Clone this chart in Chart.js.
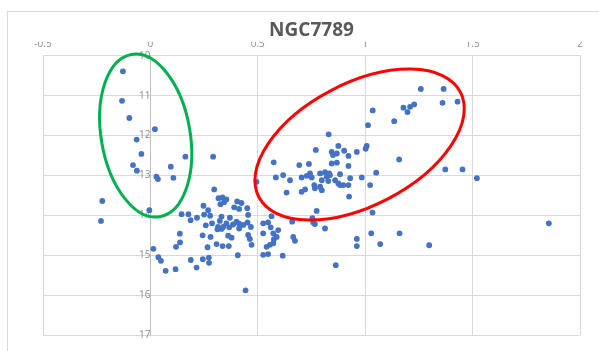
<!DOCTYPE html>
<html>
<head>
<meta charset="utf-8">
<script src="https://cdn.jsdelivr.net/npm/chart.js@4/dist/chart.umd.min.js"></script>
<style>
html,body{margin:0;padding:0;background:#fff;overflow:hidden}
#frame{position:absolute;left:7px;top:11px;width:700px;height:500px;border:1px solid #d9d9d9}
#chart{position:absolute;left:0;top:0}
</style>
</head>
<body>
<div id="frame"></div>
<canvas id="chart" width="599" height="351"></canvas>
<script>
// colour index (x) and magnitude (y) of each star
const bv=[-0.128,-0.132,-0.098,0.021,-0.064,-0.042,0.163,0.292,-0.081,-0.063,0.095,0.028,0.035,0.107,-0.224,-0.230,-0.005,
  0.014,0.037,0.049,0.071,0.117,0.119,0.138,0.137,0.145,0.177,0.187,0.217,0.188,0.215,0.244,0.272,0.273,0.266,0.243,0.280,
  0.308,0.336,0.365,0.407,0.443,0.297,0.317,0.247,0.269,0.250,0.278,0.258,0.287,0.312,0.336,0.354,0.343,0.326,0.404,0.424,
  0.390,0.413,0.451,0.455,0.331,0.323,0.370,0.354,0.315,0.339,0.331,0.367,0.385,0.401,0.413,0.432,0.452,0.468,0.413,0.362,
  0.378,0.455,0.463,0.471,0.494,0.525,0.548,0.560,0.572,0.595,0.525,0.541,0.556,0.572,0.525,0.548,0.616,0.660,0.665,0.673,
  0.634,0.584,0.618,0.650,0.564,0.574,0.693,0.738,0.770,0.704,0.728,0.743,0.751,0.790,0.813,0.763,0.790,0.798,0.720,0.704,
  0.774,0.754,0.758,0.813,0.863,0.961,0.961,0.925,0.832,0.821,0.836,0.883,0.930,0.984,1.051,0.798,0.828,0.860,0.883,0.875,
  0.922,1.023,0.844,0.868,0.922,0.844,0.850,0.875,0.868,0.902,0.922,0.961,0.830,1.007,1.002,1.013,1.035,1.135,1.178,1.197,
  1.209,1.228,1.259,1.365,1.360,1.430,1.158,1.373,1.453,1.520,1.855,1.034,1.028,1.160,1.070,1.298,0.766,0.898,0.766,0.588,0.575];
const vmag=[10.39,11.13,11.56,11.84,12.10,12.46,12.53,12.53,12.74,12.88,12.78,13.03,13.09,13.06,13.64,14.14,13.87,
  14.84,15.05,15.14,15.39,15.35,14.79,14.68,14.46,13.97,13.97,14.12,14.06,15.12,15.31,15.10,15.06,15.19,14.80,14.50,14.54,
  14.72,14.77,14.77,15.00,15.88,13.35,13.57,13.76,13.87,13.98,14.01,14.25,14.20,14.35,13.55,13.60,13.67,13.72,13.65,13.69,
  13.80,13.84,13.82,13.99,14.03,14.14,14.06,14.20,14.29,14.29,14.34,14.30,14.23,14.16,14.21,14.24,14.18,14.29,14.33,14.51,
  14.56,14.49,14.59,14.74,13.16,14.20,14.18,14.30,14.45,14.37,14.45,14.79,14.74,14.70,14.99,14.97,15.01,14.16,14.54,14.64,
  13.43,13.05,12.99,13.12,14.02,12.67,12.74,12.71,12.36,13.05,13.01,12.95,13.05,12.95,12.92,13.24,13.28,13.37,13.35,13.41,
  13.89,14.07,14.18,14.33,15.25,14.59,14.77,13.53,12.95,13.03,12.99,12.97,13.07,13.05,12.93,13.12,13.14,13.12,13.24,13.20,
  13.24,13.24,12.70,12.68,12.76,12.41,12.49,12.26,12.45,12.38,12.51,12.41,11.97,12.26,12.33,11.74,11.37,11.64,11.30,11.41,
  11.28,11.22,10.83,10.83,11.18,11.15,12.60,12.85,12.85,13.07,14.20,13.93,14.45,14.45,14.72,14.75,14.22,13.24,13.32,14.54,14.60];
const xTicks=[-0.5,0,0.5,1,1.5,2];
const yTicks=[10,11,12,13,14,15,16,17];

// hand-drawn ovals, in data units (rx along x, ry along y, rotation in degrees)
const ovals=[
  {cx:-0.022,cy:12.0,rx:0.207,ry:2.065,rot:-9.9,color:'#00b050'},
  {cx:0.974,cy:12.226,rx:0.529,ry:1.534,rot:-27.5,color:'#ff0000'}
];

const ovalPlugin={id:'ovals',afterDatasetsDraw(chart){
  const {ctx,scales:{x,y}}=chart;
  ovals.forEach(o=>{
    const cx=x.getPixelForValue(o.cx),cy=y.getPixelForValue(o.cy);
    const rx=Math.abs(x.getPixelForValue(o.cx+o.rx)-cx),ry=Math.abs(y.getPixelForValue(o.cy+o.ry)-cy);
    ctx.save();
    ctx.beginPath();
    ctx.ellipse(cx,cy,rx,ry,o.rot*Math.PI/180,0,2*Math.PI);
    ctx.strokeStyle=o.color;ctx.lineWidth=3;ctx.stroke();
    ctx.restore();
  });
}};

const tickFont={family:'Open Sans',size:10};
new Chart(document.getElementById('chart'),{
  type:'scatter',
  data:{datasets:[{
    data:bv.map((v,i)=>({x:v,y:vmag[i]})),
    backgroundColor:'#4472c4',borderWidth:0,pointRadius:2.9,pointHoverRadius:2.9
  }]},
  options:{
    responsive:false,animation:false,devicePixelRatio:1,
    layout:{padding:{left:43,right:19,top:0,bottom:16}},
    plugins:{
      legend:{display:false},tooltip:{enabled:false},
      title:{display:true,text:'NGC7789',color:'#595959',
        font:{family:'Open Sans',size:19,weight:'700',lineHeight:1.2},padding:{top:19,bottom:0}}
    },
    scales:{
      x:{type:'linear',position:'top',min:-0.5,max:2,
        afterBuildTicks:s=>{s.ticks=xTicks.map(v=>({value:v}));},
        afterFit:s=>{s.height=14;},
        grid:{color:'#d9d9d9',drawTicks:false},
        border:{color:'#d9d9d9'},
        ticks:{color:'#8c8c8c',font:tickFont,padding:6,callback:v=>String(v)}},
      y:{type:'linear',position:{x:0},reverse:true,min:10,max:17,
        afterBuildTicks:s=>{s.ticks=yTicks.map(v=>({value:v}));},
        grid:{color:'#d9d9d9',drawTicks:false},
        border:{color:'#bfbfbf'},
        ticks:{color:'#8c8c8c',font:tickFont,padding:9,callback:v=>String(v)}}
    }
  },
  plugins:[ovalPlugin]
});
</script>
</body>
</html>
